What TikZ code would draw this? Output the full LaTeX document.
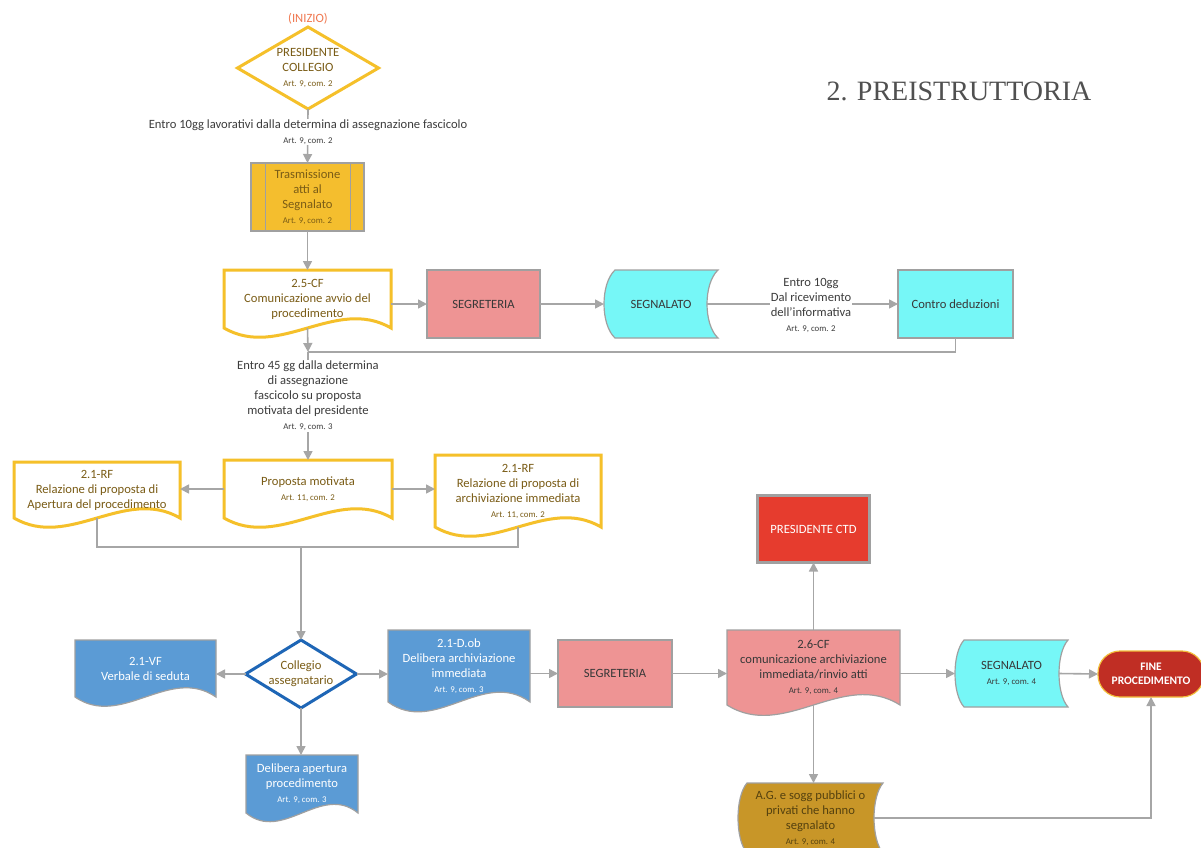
\documentclass[tikz,border=0pt]{standalone}
\usepackage{fontspec}
\setmainfont{Carlito}
\newfontfamily\titlefont{Liberation Serif}
\usetikzlibrary{arrows.meta,calc,backgrounds}
\definecolor{olivetxt}{RGB}{122,92,22}
\definecolor{labtxt}{RGB}{60,60,60}
\definecolor{darktxt}{RGB}{56,56,56}
\definecolor{yelb}{RGB}{245,192,42}
\definecolor{yelfill}{RGB}{244,190,46}
\definecolor{grayb}{RGB}{160,160,160}
\definecolor{conn}{RGB}{166,166,166}
\definecolor{salmon}{RGB}{238,148,148}
\definecolor{cyanf}{RGB}{118,247,247}
\definecolor{bluef}{RGB}{91,155,213}
\definecolor{blueb}{RGB}{30,102,182}
\definecolor{redf}{RGB}{230,60,46}
\definecolor{finef}{RGB}{192,46,36}
\definecolor{fineb}{RGB}{242,190,60}
\definecolor{goldf}{RGB}{200,150,40}
\definecolor{titlec}{RGB}{80,80,80}
\definecolor{inizioc}{RGB}{240,120,80}
\newcommand\artsz{\fontsize{8.8}{10}\selectfont}
\newcommand\mydoc[3]{%
  \path[#2] (#1.north west) -- (#1.north east) -- (#1.south east)
    .. controls ($(#1.south east)!0.33!(#1.south west)+(0,-#3)$) and ($(#1.south east)!0.67!(#1.south west)+(0,#3)$) .. (#1.south west) -- cycle;}
\newcommand\mystore[3]{%
  \path[#2] ($(#1.north west)+(#3,0)$) -- (#1.north east)
    .. controls ($(#1.north east)!0.2!(#1.south east)+(-4*#3/3,0)$) and ($(#1.north east)!0.8!(#1.south east)+(-4*#3/3,0)$) .. (#1.south east)
    -- ($(#1.south west)+(#3,0)$)
    .. controls ($(#1.south west)!0.2!(#1.north west)+(#3-4*#3/3,0)$) and ($(#1.south west)!0.8!(#1.north west)+(#3-4*#3/3,0)$) .. ($(#1.north west)+(#3,0)$) -- cycle;}
\newcommand\mydiamond[2]{%
  \path[#2] (#1.north) -- (#1.east) -- (#1.south) -- (#1.west) -- cycle;}
\begin{document}
\begin{tikzpicture}[x=1pt,y=-1pt,
  base/.style={font=\fontsize{12.6}{15}\selectfont, align=center, inner sep=0pt, outer sep=0pt},
  lab/.style={base, text=labtxt, fill=white, inner sep=1pt},
  sz/.style 2 args={minimum width=#1pt, minimum height=#2pt},
  arr/.style={draw=conn, line width=1.6pt, -{Triangle[length=9pt,width=9pt]}},
  ln/.style={draw=conn, line width=1.6pt}]
\useasboundingbox (0,0) rectangle (1201,847);

% title
\node[font=\titlefont\fontsize{28}{30}\selectfont, text=titlec] (title) at (959,91) {2. PREISTRUTTORIA};

% nodes
\node[base, text=inizioc] (inizio) at (308,19) {(INIZIO)};
\node[base, text=olivetxt, sz={141}{82}] (pc) at (308,68) {PRESIDENTE\\COLLEGIO\\{\artsz Art. 9, com. 2}};
\node[base, text=olivetxt, sz={113}{68}] (tr) at (307.5,197) {Trasmissione\\atti al\\Segnalato\\{\artsz Art. 9, com. 2}};
\node[base, text=olivetxt, sz={167}{58}] (cf25) at (307.5,299) {2.5-CF\\Comunicazione avvio del\\procedimento};
\node[base, text=darktxt, sz={113}{68}] (seg1) at (483.5,304) {SEGRETERIA};
\node[base, text=darktxt, sz={114}{68}] (sg1) at (661,304) {SEGNALATO};
\node[base, text=darktxt, sz={115}{68}] (cd) at (955.5,304) {Contro deduzioni};
\coordinate (j1) at (308,352);
\node[base, text=olivetxt, sz={168}{58}] (pm) at (308,489) {Proposta motivata\\{\artsz Art. 11, com. 2}};
\node[base, text=olivetxt, sz={166}{56}] (rfl) at (97,490) {2.1-RF\\Relazione di proposta di\\Apertura del procedimento};
\node[base, text=olivetxt, sz={166}{72}] (rfr) at (518,491) {2.1-RF\\Relazione di proposta di\\archiviazione immediata\\{\artsz Art. 11, com. 2}};
\coordinate (j2) at (301,547);
\node[base, text=olivetxt, sz={111}{68}] (cg) at (301,674) {Collegio\\assegnatario};
\node[base, text=white, sz={141}{57}] (vf) at (145.5,668.5) {2.1-VF\\Verbale di seduta};
\node[base, text=white, sz={142}{72}] (dob) at (459,666) {2.1-D.ob\\Delibera archiviazione\\immediata\\{\artsz Art. 9, com. 3}};
\node[base, text=white, sz={112}{58}] (dap) at (302,784) {Delibera apertura\\procedimento\\{\artsz Art. 9, com. 3}};
\node[base, text=darktxt, sz={114}{67}] (seg2) at (615,673.5) {SEGRETERIA};
\node[base, text=darktxt, sz={173}{75}] (cf26) at (813.5,667.5) {2.6-CF\\comunicazione archiviazione\\immediata/rinvio atti\\{\artsz Art. 9, com. 4}};
\node[base, text=white, sz={112}{67}] (ctd) at (813.5,529) {PRESIDENTE CTD};
\node[base, text=darktxt, sz={113}{67}] (sg2) at (1011.5,673.5) {SEGNALATO\\{\artsz Art. 9, com. 4}};
\node[base, text=white, sz={106}{46}, font=\fontsize{11.5}{14.5}\selectfont\bfseries] (fine) at (1151,674) {FINE\\PROCEDIMENTO};
\node[base, text=olivetxt!70!black, sz={145}{70}] (ag) at (810.5,818) {A.G. e sogg pubblici o\\privati che hanno\\segnalato\\{\artsz Art. 9, com. 4}};

% shapes
\begin{pgfonlayer}{background}
\fill[white] (0,0) rectangle (1201,847);
\mydiamond{pc}{fill=white, draw=yelb, line width=3pt, line join=miter}
\path[fill=yelfill, draw=grayb, line width=1.2pt] (tr.north west) rectangle (tr.south east);
\draw[grayb, line width=1pt] ($(tr.north west)+(14,0)$) -- ($(tr.south west)+(14,0)$);
\draw[grayb, line width=1pt] ($(tr.north east)+(-14,0)$) -- ($(tr.south east)+(-14,0)$);
\mydoc{cf25}{fill=white, draw=yelb, line width=3pt}{32}
\path[fill=salmon, draw=grayb, line width=1.5pt] (seg1.north west) rectangle (seg1.south east);
\mystore{sg1}{fill=cyanf, draw=grayb, line width=1.2pt}{11}
\path[fill=cyanf, draw=grayb, line width=2.5pt] (cd.north west) rectangle (cd.south east);
\mydoc{pm}{fill=white, draw=yelb, line width=3pt}{32}
\mydoc{rfl}{fill=white, draw=yelb, line width=3pt}{32}
\mydoc{rfr}{fill=white, draw=yelb, line width=3pt}{32}
\mydiamond{cg}{fill=white, draw=blueb, line width=3pt, line join=miter}
\mydoc{vf}{fill=bluef, draw=grayb, line width=1.2pt}{32}
\mydoc{dob}{fill=bluef, draw=grayb, line width=1.2pt}{34}
\mydoc{dap}{fill=bluef, draw=grayb, line width=1.2pt}{30}
\path[fill=salmon, draw=grayb, line width=1.5pt] (seg2.north west) rectangle (seg2.south east);
\mydoc{cf26}{fill=salmon, draw=grayb, line width=1.2pt}{36}
\path[fill=redf, draw=grayb, line width=2.5pt] (ctd.north west) rectangle (ctd.south east);
\mystore{sg2}{fill=cyanf, draw=grayb, line width=1.2pt}{9}
\path[fill=finef, draw=fineb, line width=1.2pt, rounded corners=22pt] (fine.north west) rectangle (fine.south east);
\mystore{ag}{fill=goldf, draw=grayb, line width=1.2pt}{9}
\end{pgfonlayer}

% connectors
\draw[arr] (pc.south) -- (tr.north);
\draw[arr] (tr.south) -- (cf25.north);
\draw[arr] (cf25.east |- seg1.west) -- (seg1.west);
\draw[arr] (seg1.east) -- (sg1.west);
\draw[arr] ($(sg1.east)+(-11,0)$) -- (cd.west);
\draw[arr] (cf25.south) -- (j1);
\draw[ln] (cd.south) |- (j1);
\draw[arr] (j1) -- (pm.north);
\draw[arr] (pm.west) -- (pm.west -| rfl.east);
\draw[arr] (pm.east) -- (pm.east -| rfr.west);
\draw[ln] (rfl.south) |- (j2) -| (rfr.south);
\draw[arr] (j2) -- (cg.north);
\draw[arr] (cg.west) -- (cg.west -| vf.east);
\draw[arr] (cg.east) -- (cg.east -| dob.west);
\draw[arr] (cg.south) -- (cg.south |- dap.north);
\draw[arr] (dob.east |- seg2.west) -- (seg2.west);
\draw[arr] (seg2.east) -- (seg2.east -| cf26.west);
\draw[arr] (cf26.north) -- (ctd.south);
\draw[arr] (cf26.east |- sg2.west) -- (sg2.west);
\draw[arr] ($(sg2.east)+(-9,0)$) -- (fine.west);
\draw[arr] (cf26.south) -- (cf26.south |- ag.north);
\draw[arr] ($(ag.east)+(-9,0)$) -| (fine.south);

% labels on connectors
\node[lab] (lab1) at (308,132) {Entro 10gg lavorativi dalla determina di assegnazione fascicolo\\{\artsz Art. 9, com. 2}};
\node[lab] (lab2) at (811,305) {Entro 10gg\\Dal ricevimento\\dell’informativa\\{\artsz Art. 9, com. 2}};
\node[lab] (lab3) at (308,396) {Entro 45 gg dalla determina\\di assegnazione\\fascicolo su proposta\\motivata del presidente\\{\artsz Art. 9, com. 3}};
\end{tikzpicture}
\end{document}
